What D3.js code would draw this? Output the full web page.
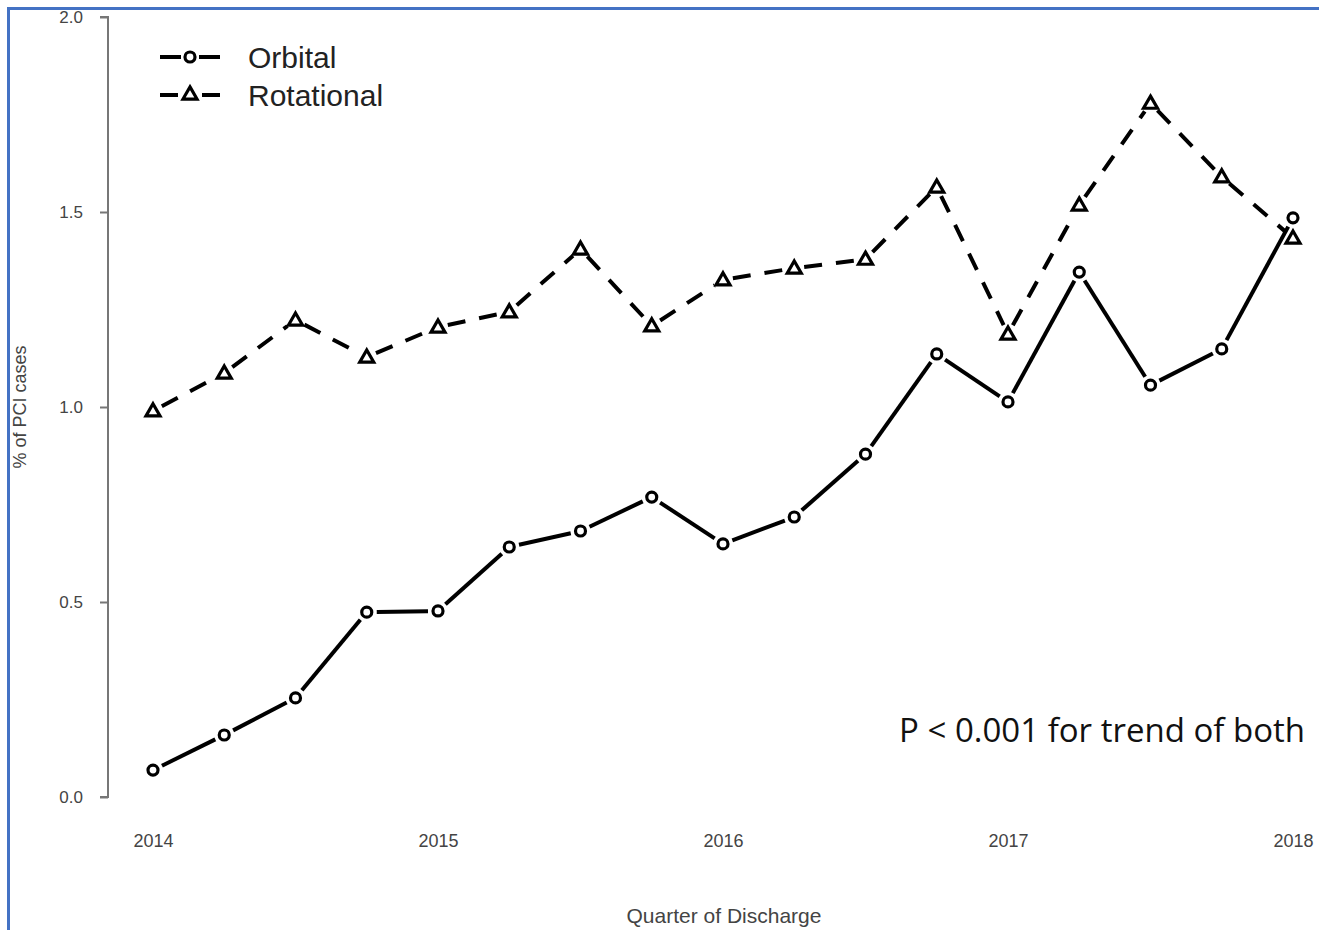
<!DOCTYPE html>
<html>
<head>
<meta charset="utf-8">
<script src="https://cdn.jsdelivr.net/npm/d3@7"></script>
<style>
  body { margin: 0; background: #fff; }
  svg { display: block; }
</style>
</head>
<body>
<div id="chart"></div>
<script>
// quarter of discharge (decimal year)
var quarters = [2014, 2014.25, 2014.5, 2014.75, 2015, 2015.25, 2015.5, 2015.75,
                2016, 2016.25, 2016.5, 2016.75, 2017, 2017.25, 2017.5, 2017.75, 2018];
var orbital = [0.069, 0.159, 0.254, 0.474, 0.477, 0.641, 0.682, 0.769,
               0.649, 0.718, 0.879, 1.136, 1.013, 1.346, 1.056, 1.149, 1.485];
var rotational = [0.990, 1.087, 1.223, 1.128, 1.205, 1.244, 1.405, 1.208,
                  1.326, 1.356, 1.379, 1.564, 1.187, 1.518, 1.779, 1.590, 1.433];
var yearTicks = [2014, 2015, 2016, 2017, 2018];
var yTicks = [0, 0.5, 1.0, 1.5, 2.0];

var W = 1319, H = 930;

var svg = d3.select("#chart")
    .append("svg")
    .attr("width", W)
    .attr("height", H);

var x = d3.scaleLinear().domain([2014, 2018]).range([153, 1293]);
var y = d3.scaleLinear().domain([0, 2]).range([797, 17]);

// blue frame (left + top)
svg.append("path")
    .attr("d", "M8.5,930 L8.5,8.5 L1319,8.5")
    .attr("fill", "none")
    .attr("stroke", "#4472c4")
    .attr("stroke-width", 3);

// y axis, R style
var yAxis = d3.axisLeft(y)
    .tickValues(yTicks)
    .tickFormat(d3.format(".1f"))
    .tickSize(8)
    .tickPadding(17);

var gy = svg.append("g")
    .attr("transform", "translate(108,0)")
    .call(yAxis);
gy.select(".domain").attr("d", "M-8," + y(0) + "H0V" + y(2) + "H-8")
    .attr("stroke", "#777").attr("stroke-width", 2);
gy.selectAll(".tick line").attr("stroke", "#777").attr("stroke-width", 2);
gy.selectAll(".tick text")
    .attr("fill", "#444")
    .style("font-family", "'Liberation Sans', Arial, sans-serif")
    .style("font-size", "17px");

// x axis labels only
var xAxis = d3.axisBottom(x)
    .tickValues(yearTicks)
    .tickFormat(d3.format("d"))
    .tickSize(0)
    .tickPadding(0);
var gx = svg.append("g")
    .attr("transform", "translate(0,834)")
    .call(xAxis);
gx.select(".domain").remove();
gx.selectAll(".tick text")
    .attr("fill", "#444")
    .style("font-family", "'Liberation Sans', Arial, sans-serif")
    .style("font-size", "18px");

// axis titles
svg.append("text")
    .attr("x", 724)
    .attr("y", 923)
    .attr("text-anchor", "middle")
    .attr("fill", "#444")
    .style("font-family", "'Liberation Sans', Arial, sans-serif")
    .style("font-size", "21px")
    .text("Quarter of Discharge");

svg.append("text")
    .attr("transform", "translate(26,407) rotate(-90)")
    .attr("text-anchor", "middle")
    .attr("fill", "#444")
    .style("font-family", "'Liberation Sans', Arial, sans-serif")
    .style("font-size", "18px")
    .text("% of PCI cases");

// type = "b": segments with gaps at the points
var gap = 10;
function segments(vals) {
    var segs = [];
    for (var i = 0; i < vals.length - 1; i++) {
        var x0 = x(quarters[i]), y0 = y(vals[i]),
            x1 = x(quarters[i + 1]), y1 = y(vals[i + 1]);
        var dx = x1 - x0, dy = y1 - y0, len = Math.sqrt(dx * dx + dy * dy);
        var ux = dx / len, uy = dy / len;
        segs.push([[x0 + ux * gap, y0 + uy * gap], [x1 - ux * gap, y1 - uy * gap]]);
    }
    return segs;
}
var line = d3.line();

svg.append("g").selectAll("path")
    .data(segments(rotational))
    .enter()
    .append("path")
    .attr("d", line)
    .attr("fill", "none")
    .attr("stroke", "#000")
    .attr("stroke-width", 4)
    .attr("stroke-dasharray", "18,14");

svg.append("g").selectAll("path")
    .data(segments(orbital))
    .enter()
    .append("path")
    .attr("d", line)
    .attr("fill", "none")
    .attr("stroke", "#000")
    .attr("stroke-width", 4);

var tri = d3.symbol().type(d3.symbolTriangle).size(85);

svg.append("g").selectAll("path")
    .data(rotational)
    .enter()
    .append("path")
    .attr("d", tri)
    .attr("transform", function(d, i) { return "translate(" + x(quarters[i]) + "," + (y(d) + 1) + ")"; })
    .attr("fill", "none")
    .attr("stroke", "#000")
    .attr("stroke-width", 3.2);

svg.append("g").selectAll("circle")
    .data(orbital)
    .enter()
    .append("circle")
    .attr("cx", function(d, i) { return x(quarters[i]); })
    .attr("cy", function(d) { return y(d); })
    .attr("r", 5)
    .attr("fill", "none")
    .attr("stroke", "#000")
    .attr("stroke-width", 3.2);

// legend
var lg = svg.append("g").attr("transform", "translate(160,0)");
lg.append("path").attr("d", "M0,57 H21 M39,57 H60")
    .attr("stroke", "#000").attr("stroke-width", 4);
lg.append("circle").attr("cx", 30).attr("cy", 57).attr("r", 5)
    .attr("fill", "none").attr("stroke", "#000").attr("stroke-width", 3.2);
lg.append("path").attr("d", "M0,95 H18 M42,95 H60")
    .attr("stroke", "#000").attr("stroke-width", 4);
lg.append("path").attr("d", tri)
    .attr("transform", "translate(30,95)")
    .attr("fill", "none").attr("stroke", "#000").attr("stroke-width", 3.2);
lg.selectAll("text.lab")
    .data(["Orbital", "Rotational"])
    .enter()
    .append("text")
    .attr("x", 88)
    .attr("y", function(d, i) { return 68 + i * 38; })
    .attr("fill", "#222")
    .style("font-family", "'Liberation Sans', Arial, sans-serif")
    .style("font-size", "30px")
    .text(function(d) { return d; });

// annotation
svg.append("text")
    .attr("x", 1305)
    .attr("y", 742)
    .attr("text-anchor", "end")
    .attr("fill", "#111")
    .style("font-family", "'Open Sans', sans-serif")
    .style("font-size", "33px")
    .text("P < 0.001 for trend of both");
</script>
</body>
</html>
